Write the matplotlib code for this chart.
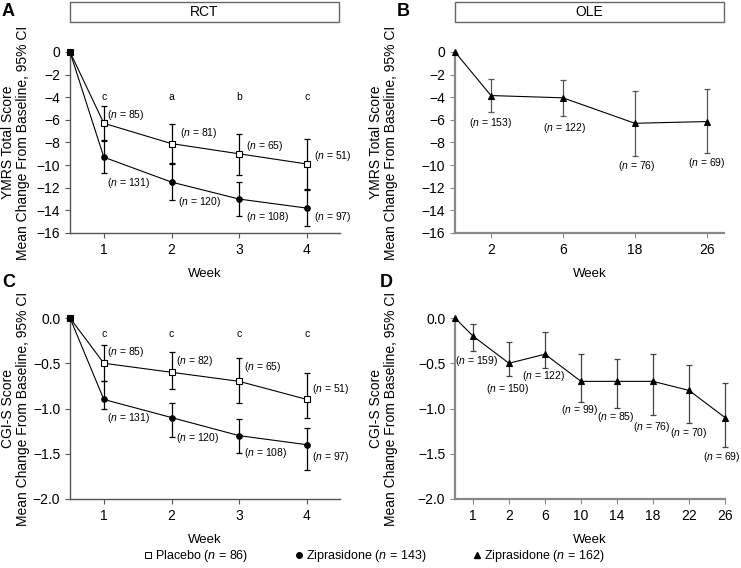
import matplotlib
matplotlib.use("Agg")
import matplotlib.pyplot as plt
from matplotlib.lines import Line2D
from matplotlib.patches import Rectangle

plt.rcParams['font.family'] = ['Liberation Sans', 'DejaVu Sans']
plt.rcParams['font.size'] = 10
plt.rcParams['mathtext.fontset'] = 'custom'
plt.rcParams['mathtext.it'] = 'Liberation Sans:italic'
plt.rcParams['mathtext.rm'] = 'Liberation Sans'

# tick labels (weeks)
rct_weeks = ['1', '2', '3', '4']
ole_ymrs_weeks = ['2', '6', '18', '26']
ole_cgi_weeks = ['1', '2', '6', '10', '14', '18', '22', '26']

# A: YMRS, RCT
ymrs_pbo = [-6.3, -8.1, -9.0, -9.9]
ymrs_pbo_hi = [-4.8, -6.4, -7.25, -7.7]
ymrs_pbo_lo = [-7.8, -9.8, -10.85, -12.1]
ymrs_pbo_n = [85, 81, 65, 51]
ymrs_zip = [-9.3, -11.5, -13.0, -13.8]
ymrs_zip_hi = [-7.9, -9.9, -11.45, -12.2]
ymrs_zip_lo = [-10.7, -13.1, -14.5, -15.4]
ymrs_zip_n = [131, 120, 108, 97]
ymrs_sig = ['c', 'a', 'b', 'c']

# B: YMRS, OLE
ymrs_ole = [-3.85, -4.05, -6.3, -6.15]
ymrs_ole_hi = [-2.4, -2.45, -3.45, -3.3]
ymrs_ole_lo = [-5.3, -5.7, -9.2, -8.9]
ymrs_ole_n = [153, 122, 76, 69]

# C: CGI-S, RCT
cgi_pbo = [-0.5, -0.6, -0.7, -0.9]
cgi_pbo_hi = [-0.3, -0.38, -0.44, -0.61]
cgi_pbo_lo = [-0.7, -0.79, -0.94, -1.1]
cgi_pbo_n = [85, 82, 65, 51]
cgi_zip = [-0.9, -1.1, -1.3, -1.4]
cgi_zip_hi = [-0.7, -0.94, -1.12, -1.22]
cgi_zip_lo = [-1.0, -1.31, -1.49, -1.68]
cgi_zip_n = [131, 120, 108, 97]
cgi_sig = ['c', 'c', 'c', 'c']

# D: CGI-S, OLE
cgi_ole = [-0.2, -0.5, -0.4, -0.7, -0.7, -0.7, -0.8, -1.1]
cgi_ole_hi = [-0.07, -0.27, -0.15, -0.4, -0.45, -0.4, -0.52, -0.72]
cgi_ole_lo = [-0.37, -0.64, -0.55, -0.93, -0.99, -1.07, -1.16, -1.42]
cgi_ole_n = [159, 150, 122, 99, 85, 76, 70, 69]

W, H = 741, 568
fig = plt.figure(figsize=(W / 100, H / 100), dpi=100)


def ax_at(l, r, t, b):
    return fig.add_axes([l / W, 1 - b / H, (r - l) / W, (b - t) / H])


axA = ax_at(70, 340, 52, 233)
axB = ax_at(455, 724, 52, 233)
axC = ax_at(70, 340, 318, 499)
axD = ax_at(455, 725, 318, 499)


def series(ax, mean, hi, lo, marker, face, ecol, ms=4):
    xs = [0.5] + list(range(1, len(mean) + 1))
    ys = [0] + list(mean)
    ax.plot(xs, ys, color='black', lw=0.8, marker=marker, ms=ms,
            mfc=face, mec='black', mew=0.8, clip_on=False, zorder=3)
    err = [[m - l for m, l in zip(mean, lo)], [h - m for m, h in zip(mean, hi)]]
    eb = ax.errorbar(range(1, len(mean) + 1), mean, yerr=err, fmt='none',
                     ecolor=ecol, elinewidth=0.9, capsize=2, capthick=0.9, zorder=2)
    for a in eb.get_children():
        a.set_clip_on(False)


def style(ax, labels, xmax, ylim, yticks, fmt, ylabel, spine_col, spine_w, lab_x):
    ax.set_xlim(0.5, xmax)
    ax.set_ylim(*ylim)
    ax.set_xticks(range(1, len(labels) + 1))
    ax.set_xticklabels(labels)
    ax.set_yticks(yticks)
    ax.set_yticklabels([fmt.format(v).replace('-', '\u2212') for v in yticks])
    for s in ('top', 'right'):
        ax.spines[s].set_visible(False)
    for s in ('left', 'bottom'):
        ax.spines[s].set_color(spine_col)
        ax.spines[s].set_linewidth(spine_w)
    ax.tick_params(direction='out', length=3.5, width=0.8, color=spine_col, labelsize=10)
    ax.set_xlabel('Week', fontsize=9.5, labelpad=8)
    ax.set_ylabel(ylabel, fontsize=10, linespacing=1.05)
    ax.yaxis.set_label_coords(lab_x, 0.5)


def nlabel(ax, x, y, n, ha='left'):
    ax.text(x, y, r'($\it{n}$ = %d)' % n, fontsize=7.5, ha=ha, va='center', zorder=4)


ymrs_label = 'YMRS Total Score\nMean Change From Baseline, 95% CI'
cgi_label = 'CGI-S Score\nMean Change From Baseline, 95% CI'

# A
series(axA, ymrs_pbo, ymrs_pbo_hi, ymrs_pbo_lo, 's', 'white', 'black', ms=4.5)
series(axA, ymrs_zip, ymrs_zip_hi, ymrs_zip_lo, 'o', 'black', 'black')
style(axA, rct_weeks, 4.49, (-16, 0), range(0, -17, -2), '{:d}', ymrs_label, '#555555', 1.0, -0.148)
pA = [(1.05, -5.6), (2.13, -7.2), (3.1, -8.3), (4.11, -9.2)]
zA = [(1.05, -11.55), (2.1, -13.3), (3.1, -14.6), (4.11, -14.6)]
for (x, y), n in zip(pA, ymrs_pbo_n):
    nlabel(axA, x, y, n)
for (x, y), n in zip(zA, ymrs_zip_n):
    nlabel(axA, x, y, n)
for i, s in enumerate(ymrs_sig):
    axA.text(i + 1, -4.0, s, fontsize=7.5, ha='center', va='center')

# B
series(axB, ymrs_ole, ymrs_ole_hi, ymrs_ole_lo, '^', 'black', '#555555')
style(axB, ole_ymrs_weeks, 4.24, (-16, 0), range(0, -17, -2), '{:d}', ymrs_label, '#888888', 1.6, -0.212)
pB = [(1.0, -6.25), (2.03, -6.75), (3.02, -10.1), (4.0, -9.85)]
for (x, y), n in zip(pB, ymrs_ole_n):
    nlabel(axB, x, y, n, ha='center')

# C
series(axC, cgi_pbo, cgi_pbo_hi, cgi_pbo_lo, 's', 'white', 'black', ms=4.5)
series(axC, cgi_zip, cgi_zip_hi, cgi_zip_lo, 'o', 'black', 'black')
style(axC, rct_weeks, 4.49, (-2.0, 0.0), [0.0, -0.5, -1.0, -1.5, -2.0], '{:.1f}', cgi_label, '#555555', 1.0, -0.148)
pC = [(1.05, -0.38), (2.06, -0.47), (3.07, -0.54), (4.07, -0.78)]
zC = [(1.05, -1.1), (2.07, -1.33), (3.07, -1.49), (4.07, -1.54)]
for (x, y), n in zip(pC, cgi_pbo_n):
    nlabel(axC, x, y, n)
for (x, y), n in zip(zC, cgi_zip_n):
    nlabel(axC, x, y, n)
for i, s in enumerate(cgi_sig):
    axC.text(i + 1, -0.18, s, fontsize=7.5, ha='center', va='center')

# D
series(axD, cgi_ole, cgi_ole_hi, cgi_ole_lo, '^', 'black', '#444444')
style(axD, ole_cgi_weeks, 8.0, (-2.0, 0.0), [0.0, -0.5, -1.0, -1.5, -2.0], '{:.1f}', cgi_label, '#888888', 1.6, -0.212)
pD = [(1.11, -0.47), (1.97, -0.78), (2.97, -0.645), (3.97, -1.02),
      (4.97, -1.09), (5.97, -1.2), (6.98, -1.27), (7.9, -1.54)]
for (x, y), n in zip(pD, cgi_ole_n):
    nlabel(axD, x, y, n, ha='center')

# header boxes
for (l, r), title in (((70, 339), 'RCT'), ((455, 724), 'OLE')):
    fig.patches.append(Rectangle((l / W, 1 - 22 / H), (r - l) / W, 20 / H,
                                 transform=fig.transFigure, fill=False,
                                 edgecolor='#666666', lw=1.0))
    fig.text((l + r) / 2 / W, 1 - 12 / H, title, ha='center', va='center', fontsize=10)

# panel letters
for x, y, s in ((2, 12, 'A'), (397, 12, 'B'), (2, 283, 'C'), (380, 283, 'D')):
    fig.text(x / W, 1 - y / H, s, fontsize=13, fontweight='bold', va='center', ha='left')

handles = [
    Line2D([], [], ls='none', marker='s', ms=4, mfc='white', mec='black', mew=0.7),
    Line2D([], [], ls='none', marker='o', ms=4, mfc='black', mec='black'),
    Line2D([], [], ls='none', marker='^', ms=4, mfc='black', mec='black'),
]
labels = [r'Placebo ($\it{n}$ = 86)', r'Ziprasidone ($\it{n}$ = 143)', r'Ziprasidone ($\it{n}$ = 162)']
fig.legend(handles, labels, loc='center', bbox_to_anchor=(373 / W, 1 - 556 / H), ncol=3,
           frameon=False, fontsize=9, handletextpad=0.1, columnspacing=3.5, handlelength=1.0)

fig.savefig('out.png', dpi=100)
